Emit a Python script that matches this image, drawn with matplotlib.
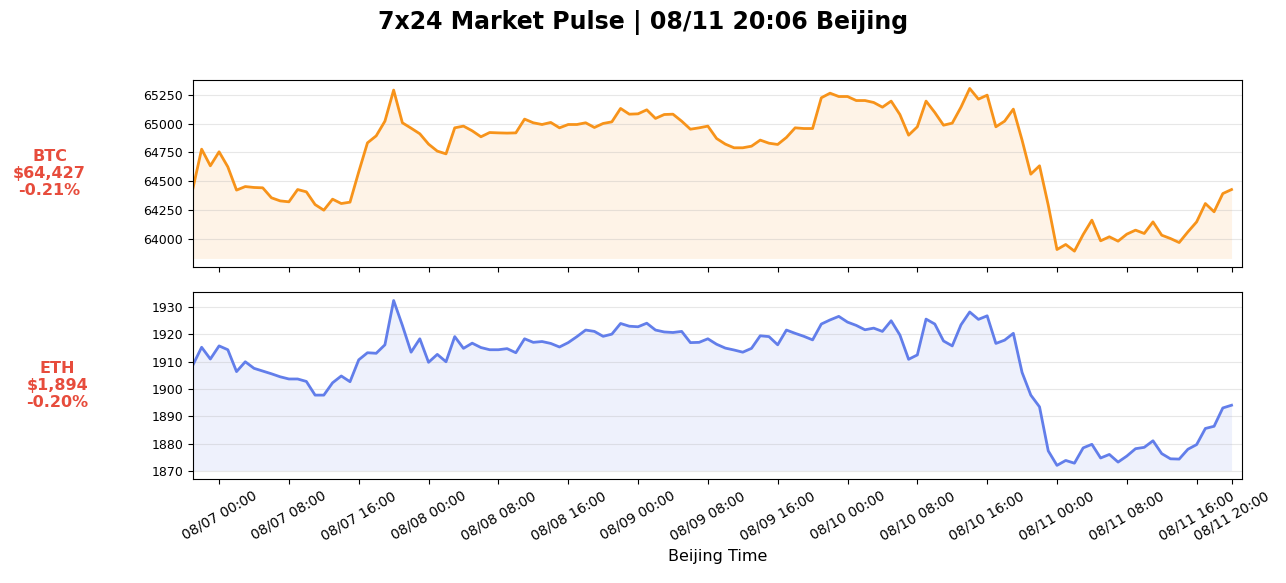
import matplotlib
matplotlib.use('Agg')
import matplotlib.pyplot as plt
import matplotlib.dates as mdates
import pandas as pd

# hourly closes, Beijing time, 08/06 21:00 -> 08/11 20:00
start = '2024-08-06 21:00'
btc_prices = [
    64436, 64779, 64634, 64756, 64625, 64422, 64453, 64445, 64442, 64355,
    64328, 64320, 64427, 64407, 64296, 64247, 64343, 64305, 64317, 64581,
    64834, 64895, 65023, 65294, 65009, 64962, 64913, 64823, 64762, 64738,
    64965, 64980, 64939, 64887, 64924, 64921, 64919, 64921, 65041, 65009,
    64994, 65012, 64965, 64994, 64994, 65009, 64968, 65003, 65017, 65134,
    65084, 65087, 65122, 65047, 65081, 65084, 65023, 64953, 64965, 64980,
    64872, 64823, 64791, 64791, 64805, 64858, 64831, 64820, 64881, 64965,
    64959, 64959, 65227, 65267, 65238, 65238, 65203, 65203, 65186, 65145,
    65198, 65081, 64901, 64974, 65198, 65099, 64988, 65006, 65145, 65308,
    65215, 65250, 64974, 65023, 65128, 64858, 64561, 64634, 64291, 63904,
    63948, 63890, 64035, 64160, 63980, 64015, 63977, 64038, 64073, 64044,
    64145, 64029, 64000, 63965, 64058, 64145, 64305, 64233, 64392, 64427,
]
eth_prices = [
    1908.8, 1915.3, 1911.0, 1915.8, 1914.4, 1906.4, 1910.0, 1907.6, 1906.6, 1905.6,
    1904.5, 1903.7, 1903.7, 1902.8, 1897.8, 1897.8, 1902.3, 1904.8, 1902.7, 1910.7,
    1913.3, 1913.1, 1916.2, 1932.4, 1923.3, 1913.5, 1918.4, 1909.8, 1912.7, 1910.0,
    1919.2, 1914.9, 1916.8, 1915.2, 1914.4, 1914.4, 1914.8, 1913.3, 1918.4, 1917.1,
    1917.4, 1916.7, 1915.4, 1917.0, 1919.2, 1921.6, 1921.1, 1919.3, 1920.1, 1924.0,
    1923.0, 1922.8, 1924.1, 1921.6, 1920.9, 1920.7, 1921.1, 1917.0, 1917.1, 1918.4,
    1916.4, 1915.0, 1914.3, 1913.5, 1914.9, 1919.5, 1919.2, 1916.2, 1921.6, 1920.4,
    1919.3, 1918.0, 1923.8, 1925.3, 1926.6, 1924.5, 1923.3, 1921.7, 1922.3, 1921.1,
    1925.0, 1919.8, 1910.9, 1912.5, 1925.6, 1923.8, 1917.6, 1915.8, 1923.5, 1928.2,
    1925.5, 1926.8, 1916.7, 1917.9, 1920.4, 1906.1, 1897.8, 1893.5, 1877.4, 1872.1,
    1873.9, 1872.9, 1878.5, 1879.8, 1874.8, 1876.1, 1873.3, 1875.5, 1878.2, 1878.7,
    1881.1, 1876.4, 1874.5, 1874.4, 1878.0, 1879.7, 1885.6, 1886.4, 1893.1, 1894.1,
]
labels = ['BTC\n$64,427\n-0.21%', 'ETH\n$1,894\n-0.20%']
colors = ['#f7931a', '#627eea']

times = pd.date_range(start, periods=len(btc_prices), freq='h')

fig, axes = plt.subplots(2, 1, figsize=(12.86, 5.83), dpi=100, sharex=True)
fig.subplots_adjust(left=0.150, right=0.9658, top=0.8628, bottom=0.1784,
                    hspace=0.134)

for ax, prices, color, label in zip(axes, [btc_prices, eth_prices], colors, labels):
    ax.plot(times, prices, color=color, linewidth=2)
    ax.fill_between(times, prices, min(prices) * 0.999, color=color, alpha=0.1,
                    linewidth=0)
    ax.grid(True, axis='y', alpha=0.3)
    ax.tick_params(axis='y', labelsize=9)
    # price tag sits where the y label would be
    ax.set_ylabel(label, rotation=0, ha='center', va='center', labelpad=67.5,
                  fontsize=11.5, fontweight='bold', color='#e74c3c',
                  linespacing=1.15)

ticks = list(pd.date_range('2024-08-07 00:00', '2024-08-11 16:00', freq='8h'))
ticks.append(times[-1])
ax = axes[1]
ax.set_xticks(ticks)
ax.xaxis.set_major_formatter(mdates.DateFormatter('%m/%d %H:%M'))
ax.set_xlim(times[0], times[-1] + pd.Timedelta(hours=1.2))
plt.setp(ax.get_xticklabels(), rotation=30, ha='center', fontsize=10)
ax.set_xlabel('Beijing Time', fontsize=11.5)

fig.suptitle('7x24 Market Pulse | 08/11 20:06 Beijing', fontsize=17,
             fontweight='bold', y=0.961, va='center')

plt.savefig('out.png', dpi=100)
